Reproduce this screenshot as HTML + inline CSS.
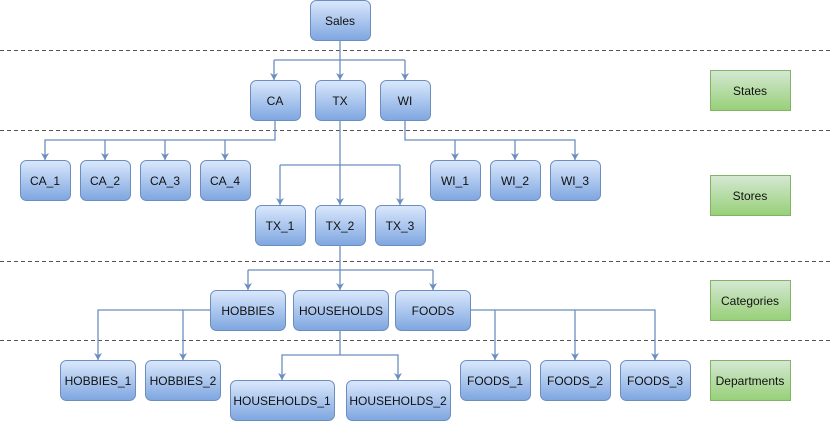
<!DOCTYPE html>
<html><head><meta charset="utf-8"><style>body{margin:0;background:#fff}svg{display:block}text{font-family:"Liberation Sans",Arial,sans-serif;font-size:12px;fill:#111}</style></head><body>
<svg width="832" height="421" viewBox="0 0 832 421" xmlns="http://www.w3.org/2000/svg">
<defs>
<linearGradient id="b" x1="0" y1="0" x2="0" y2="1"><stop offset="0" stop-color="#dae8fc"/><stop offset="1" stop-color="#7ea6e0"/></linearGradient>
<linearGradient id="g" x1="0" y1="0" x2="0" y2="1"><stop offset="0" stop-color="#d5e8d4"/><stop offset="1" stop-color="#97d077"/></linearGradient>
<marker id="a" markerWidth="8" markerHeight="8" refX="7" refY="4" orient="auto" markerUnits="userSpaceOnUse"><path d="M0,0 L7,4 L0,8 L2,4 Z" fill="#6c8ebf"/></marker>
</defs>
<g stroke="#555" stroke-dasharray="4,3" stroke-width="1">
<line x1="0" y1="50.5" x2="832" y2="50.5"/><line x1="0" y1="130.5" x2="832" y2="130.5"/><line x1="0" y1="261.5" x2="832" y2="261.5"/><line x1="0" y1="340.5" x2="832" y2="340.5"/>
</g>
<g stroke="#6c8ebf" stroke-width="1.3" fill="none">
<path d="M340,40 V80" marker-end="url(#a)"/><path d="M274,60 H405"/><path d="M274,60 V80" marker-end="url(#a)"/><path d="M405,60 V80" marker-end="url(#a)"/>
<path d="M275,120 V140 H45 V160" marker-end="url(#a)"/><path d="M105,140 V160" marker-end="url(#a)"/><path d="M165,140 V160" marker-end="url(#a)"/><path d="M225,140 V160" marker-end="url(#a)"/>
<path d="M405,120 V140 H575 V160" marker-end="url(#a)"/><path d="M455,140 V160" marker-end="url(#a)"/><path d="M515,140 V160" marker-end="url(#a)"/>
<path d="M340,120 V205" marker-end="url(#a)"/><path d="M280,165 H400"/><path d="M280,165 V205" marker-end="url(#a)"/><path d="M400,165 V205" marker-end="url(#a)"/>
<path d="M340,245 V290" marker-end="url(#a)"/><path d="M248,270 H433"/><path d="M248,270 V290" marker-end="url(#a)"/><path d="M433,270 V290" marker-end="url(#a)"/>
<path d="M210,310 H98 V360" marker-end="url(#a)"/><path d="M183,310 V360" marker-end="url(#a)"/>
<path d="M340,330 V355 H282 V380" marker-end="url(#a)"/><path d="M340,355 H398 V380" marker-end="url(#a)"/>
<path d="M470,310 H655 V360" marker-end="url(#a)"/><path d="M495,310 V360" marker-end="url(#a)"/><path d="M575,310 V360" marker-end="url(#a)"/>
</g>
<g fill="url(#b)" stroke="#6c8ebf" stroke-width="1">
<rect x="310.5" y="0.5" width="60" height="40" rx="6"/>
<rect x="250.5" y="80.5" width="50" height="40" rx="6"/><rect x="315.5" y="80.5" width="50" height="40" rx="6"/><rect x="380.5" y="80.5" width="50" height="40" rx="6"/>
<rect x="20.5" y="160.5" width="50" height="40" rx="6"/><rect x="80.5" y="160.5" width="50" height="40" rx="6"/><rect x="140.5" y="160.5" width="50" height="40" rx="6"/><rect x="200.5" y="160.5" width="50" height="40" rx="6"/>
<rect x="430.5" y="160.5" width="50" height="40" rx="6"/><rect x="490.5" y="160.5" width="50" height="40" rx="6"/><rect x="550.5" y="160.5" width="50" height="40" rx="6"/>
<rect x="255.5" y="205.5" width="50" height="40" rx="6"/><rect x="315.5" y="205.5" width="50" height="40" rx="6"/><rect x="375.5" y="205.5" width="50" height="40" rx="6"/>
<rect x="210.5" y="290.5" width="75" height="40" rx="6"/><rect x="293.5" y="290.5" width="95" height="40" rx="6"/><rect x="395.5" y="290.5" width="75" height="40" rx="6"/>
<rect x="60.5" y="360.5" width="75" height="40" rx="6"/><rect x="145.5" y="360.5" width="75" height="40" rx="6"/>
<rect x="230.5" y="380.5" width="104" height="40" rx="6"/><rect x="346.5" y="380.5" width="104" height="40" rx="6"/>
<rect x="460.5" y="360.5" width="70" height="40" rx="6"/><rect x="540.5" y="360.5" width="70" height="40" rx="6"/><rect x="620.5" y="360.5" width="70" height="40" rx="6"/>
</g>
<g fill="url(#g)" stroke="#82b366" stroke-width="1">
<rect x="710.5" y="70.5" width="80" height="40"/><rect x="710.5" y="175.5" width="80" height="40"/><rect x="710.5" y="280.5" width="80" height="40"/><rect x="710.5" y="360.5" width="80" height="40"/>
</g>
<g text-anchor="middle">
<text x="340" y="25">Sales</text>
<text x="275" y="105">CA</text><text x="340" y="105">TX</text><text x="405" y="105">WI</text>
<text x="45" y="185">CA_1</text><text x="105" y="185">CA_2</text><text x="165" y="185">CA_3</text><text x="225" y="185">CA_4</text>
<text x="455" y="185">WI_1</text><text x="515" y="185">WI_2</text><text x="575" y="185">WI_3</text>
<text x="280" y="230">TX_1</text><text x="340" y="230">TX_2</text><text x="400" y="230">TX_3</text>
<text x="248" y="315">HOBBIES</text><text x="341" y="315">HOUSEHOLDS</text><text x="433" y="315">FOODS</text>
<text x="98" y="385">HOBBIES_1</text><text x="183" y="385">HOBBIES_2</text>
<text x="282" y="405">HOUSEHOLDS_1</text><text x="398" y="405">HOUSEHOLDS_2</text>
<text x="495" y="385">FOODS_1</text><text x="575" y="385">FOODS_2</text><text x="655" y="385">FOODS_3</text>
<text x="750" y="95">States</text><text x="750" y="200">Stores</text><text x="750" y="305">Categories</text><text x="750" y="385">Departments</text>
</g>
</svg>
</body></html>
